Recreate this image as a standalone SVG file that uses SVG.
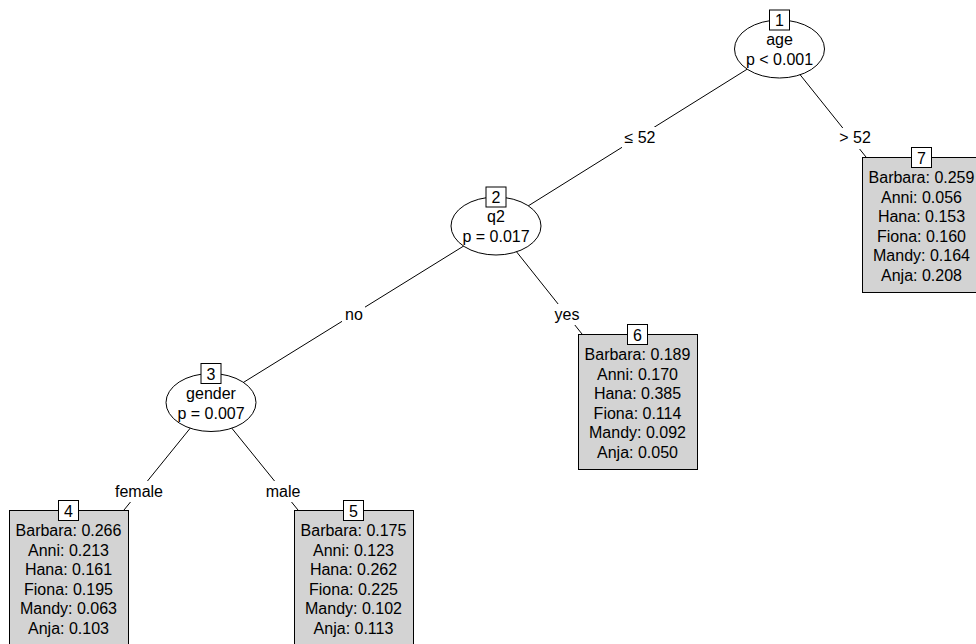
<svg xmlns="http://www.w3.org/2000/svg" width="976" height="644" viewBox="0 0 976 644">
<style>
text{font-family:"Liberation Sans",Arial,Helvetica,sans-serif;font-size:16px;fill:#000;text-anchor:middle}
.edge{stroke:#000;stroke-width:1;fill:none}
.lblbg{fill:#fff;stroke:none}
.inner{fill:#fff;stroke:#000;stroke-width:1}
.term{fill:#d3d3d3;stroke:#000;stroke-width:1}
.num{fill:#fff;stroke:#000;stroke-width:1}
</style>
<rect x="0" y="0" width="976" height="644" fill="#fff"/>
<g id="edges">
  <line class="edge" x1="779.5" y1="49" x2="496" y2="226"/>
  <line class="edge" x1="779.5" y1="49" x2="866" y2="157"/>
  <line class="edge" x1="496" y1="226" x2="211" y2="402.5"/>
  <line class="edge" x1="496" y1="226" x2="582" y2="334"/>
  <line class="edge" x1="211" y1="402.5" x2="124" y2="510"/>
  <line class="edge" x1="211" y1="402.5" x2="298" y2="510"/>
  <rect class="lblbg" x="622" y="127" width="37" height="21"/>
  <text x="640" y="143">≤ 52</text>
  <rect class="lblbg" x="836" y="128" width="37" height="21"/>
  <text x="855" y="143">&gt; 52</text>
  <rect class="lblbg" x="342" y="304" width="23" height="21"/>
  <text x="354" y="320">no</text>
  <rect class="lblbg" x="552" y="304" width="30" height="21"/>
  <text x="567" y="320">yes</text>
  <rect class="lblbg" x="113" y="481" width="53" height="21"/>
  <text x="139" y="497">female</text>
  <rect class="lblbg" x="265" y="481" width="38" height="21"/>
  <text x="283" y="497">male</text>
</g>
<g id="node1">
  <ellipse class="inner" cx="779.5" cy="49" rx="45" ry="29"/>
  <rect class="num" x="769.5" y="10" width="20" height="20"/>
  <text x="779.5" y="26">1</text>
  <text x="779.5" y="45">age</text>
  <text x="779.5" y="65">p &lt; 0.001</text>
</g>
<g id="node2">
  <ellipse class="inner" cx="496" cy="226" rx="45" ry="29"/>
  <rect class="num" x="486" y="187" width="20" height="20"/>
  <text x="496" y="203">2</text>
  <text x="496" y="222">q2</text>
  <text x="496" y="242">p = 0.017</text>
</g>
<g id="node3">
  <ellipse class="inner" cx="211" cy="402.5" rx="45" ry="29"/>
  <rect class="num" x="201" y="363.5" width="20" height="20"/>
  <text x="211" y="379.5">3</text>
  <text x="211" y="398.5">gender</text>
  <text x="211" y="418.5">p = 0.007</text>
</g>
<g id="node4">
  <rect class="term" x="9.5" y="510.5" width="119" height="135"/>
  <rect class="num" x="58.5" y="500.5" width="20" height="20"/>
  <text x="68.5" y="516.5">4</text>
  <text x="68.5" y="536">Barbara: 0.266</text>
  <text x="68.5" y="555.6">Anni: 0.213</text>
  <text x="68.5" y="575.2">Hana: 0.161</text>
  <text x="68.5" y="594.8">Fiona: 0.195</text>
  <text x="68.5" y="614.4">Mandy: 0.063</text>
  <text x="68.5" y="634">Anja: 0.103</text>
</g>
<g id="node5">
  <rect class="term" x="294.5" y="510.5" width="119" height="135"/>
  <rect class="num" x="343.5" y="500.5" width="20" height="20"/>
  <text x="353.5" y="516.5">5</text>
  <text x="353.5" y="536">Barbara: 0.175</text>
  <text x="353.5" y="555.6">Anni: 0.123</text>
  <text x="353.5" y="575.2">Hana: 0.262</text>
  <text x="353.5" y="594.8">Fiona: 0.225</text>
  <text x="353.5" y="614.4">Mandy: 0.102</text>
  <text x="353.5" y="634">Anja: 0.113</text>
</g>
<g id="node6">
  <rect class="term" x="578.5" y="334.5" width="119" height="135"/>
  <rect class="num" x="627.5" y="324.5" width="20" height="20"/>
  <text x="637.5" y="340.5">6</text>
  <text x="637.5" y="360">Barbara: 0.189</text>
  <text x="637.5" y="379.6">Anni: 0.170</text>
  <text x="637.5" y="399.2">Hana: 0.385</text>
  <text x="637.5" y="418.8">Fiona: 0.114</text>
  <text x="637.5" y="438.4">Mandy: 0.092</text>
  <text x="637.5" y="458">Anja: 0.050</text>
</g>
<g id="node7">
  <rect class="term" x="862.5" y="157.5" width="119" height="135"/>
  <rect class="num" x="911.5" y="147.5" width="20" height="20"/>
  <text x="921.5" y="163.5">7</text>
  <text x="921.5" y="183">Barbara: 0.259</text>
  <text x="921.5" y="202.6">Anni: 0.056</text>
  <text x="921.5" y="222.2">Hana: 0.153</text>
  <text x="921.5" y="241.8">Fiona: 0.160</text>
  <text x="921.5" y="261.4">Mandy: 0.164</text>
  <text x="921.5" y="281">Anja: 0.208</text>
</g>
</svg>
